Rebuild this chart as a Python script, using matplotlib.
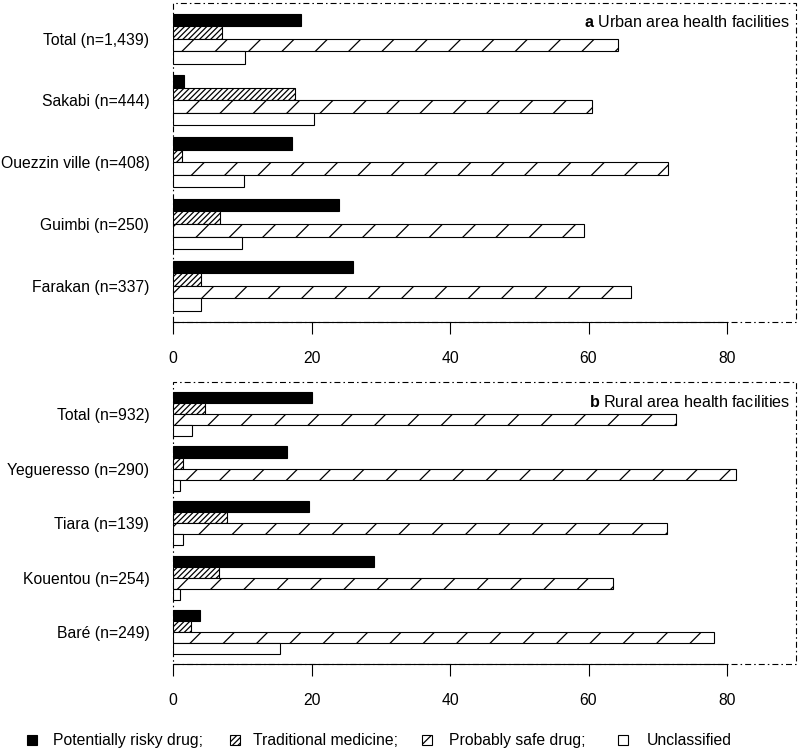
import matplotlib
matplotlib.use('Agg')
import matplotlib.pyplot as plt
import numpy as np
from matplotlib.patches import Rectangle

plt.rcParams['font.family'] = ['Liberation Sans', 'DejaVu Sans']
plt.rcParams['mathtext.fontset'] = 'custom'
plt.rcParams['mathtext.rm'] = 'Liberation Sans'
plt.rcParams['mathtext.bf'] = 'Liberation Sans:bold'
plt.rcParams['hatch.linewidth'] = 0.9
plt.rcParams['lines.scale_dashes'] = False

# ---------------- data ----------------
urban_sites = ["Total (n=1,439)", "Sakabi (n=444)", "Ouezzin ville (n=408)",
               "Guimbi (n=250)", "Farakan (n=337)"]
urban_risky = [18.4, 1.5, 17.1, 24.0, 25.9]
urban_trad = [7.1, 17.6, 1.2, 6.8, 4.0]
urban_safe = [64.2, 60.5, 71.5, 59.3, 66.1]
urban_uncl = [10.3, 20.4, 10.2, 9.9, 4.0]

rural_sites = ["Total (n=932)", "Yegueresso (n=290)", "Tiara (n=139)",
               "Kouentou (n=254)", "Baré (n=249)"]
rural_risky = [20.0, 16.5, 19.6, 29.0, 3.9]
rural_trad = [4.6, 1.4, 7.8, 6.6, 2.6]
rural_safe = [72.7, 81.3, 71.3, 63.5, 78.1]
rural_uncl = [2.7, 0.9, 1.4, 0.9, 15.4]

categories = ["Potentially risky drug;", "Traditional medicine;",
              "Probably safe drug;", "Unclassified"]
xticks = [0, 20, 40, 60, 80]

# ---------------- styles ----------------
faces = ['black', 'white', 'white', 'white']
hatches = [None, '//////', '/', None]
FS = 11.3
DASHDOT = (0, (4.3, 2.2, 1.1, 2.2))

W, H = 798, 749
fig = plt.figure(figsize=(W / 100, H / 100), dpi=100)

x0 = 173.3
xw = 622.8
ax_a = fig.add_axes([x0 / W, 1 - 321.7 / H, xw / W, (321.7 - 2.7) / H])
ax_b = fig.add_axes([x0 / W, 1 - 664.0 / H, xw / W, (664.0 - 382.3) / H])


def panel(ax, labels, series, letter, title, title_y):
    n = len(labels)
    step = 4.94
    base = np.arange(n) * step
    for k, vals in enumerate(series):
        bars = ax.barh(base + k + 0.5, vals, height=1.0, color=faces[k],
                       edgecolor='black', linewidth=0.8, zorder=2)
        if hatches[k]:
            for b in bars:
                b.set_hatch(hatches[k])
    ax.set_ylim((n - 1) * step + 4 + 0.87, -0.87)
    ax.set_xlim(0, 90)
    for s in ['top', 'right', 'left']:
        ax.spines[s].set_visible(False)
    ax.spines['bottom'].set_bounds(0, 80)
    ax.spines['bottom'].set_linewidth(0.8)
    ax.spines['bottom'].set_zorder(3)
    ax.set_xticks(xticks)
    ax.set_xticklabels([str(v) for v in xticks])
    ax.tick_params(axis='x', length=8.4, width=0.8, pad=12.5, labelsize=FS)
    ax.set_yticks(base + 2)
    ax.set_yticklabels(labels)
    ax.tick_params(axis='y', length=0, pad=17.3, labelsize=FS)
    box = Rectangle((0, 0), 1, 1, transform=ax.transAxes, fill=False,
                    linestyle=DASHDOT, linewidth=0.8, edgecolor='black',
                    clip_on=False, zorder=1)
    ax.add_patch(box)
    ax.text(0.990, title_y, r"$\mathbf{" + letter + "}$ " + title,
            transform=ax.transAxes, ha='right', va='center', fontsize=FS + 0.3)


panel(ax_a, urban_sites, [urban_risky, urban_trad, urban_safe, urban_uncl],
      'a', "Urban area health facilities", 0.938)
panel(ax_b, rural_sites, [rural_risky, rural_trad, rural_safe, rural_uncl],
      'b', "Rural area health facilities", 0.930)

# ---------------- legend (bottom) ----------------
sq_x = [26.7, 230.0, 421.7, 618.0]
tx_x = [53.0, 253.0, 449.0, 647.0]
baseline = 745.0
for k, lab in enumerate(categories):
    r = Rectangle((sq_x[k] / W, (H - baseline) / H), 10 / W, 10 / H,
                  transform=fig.transFigure, facecolor=faces[k],
                  edgecolor='black', linewidth=0.8)
    if hatches[k]:
        r.set_hatch(hatches[k])
    fig.add_artist(r)
    fig.text(tx_x[k] / W, (H - baseline) / H, lab, ha='left', va='baseline',
             fontsize=FS)

fig.savefig('out.png', dpi=100)
